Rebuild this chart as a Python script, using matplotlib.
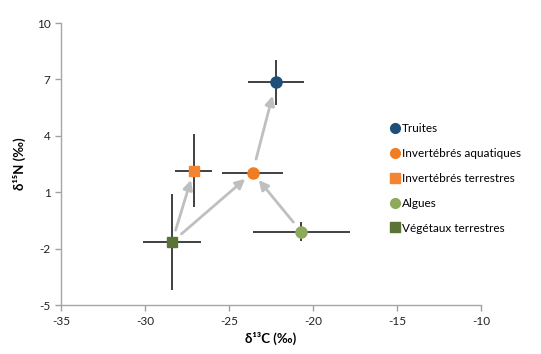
import matplotlib
matplotlib.use("Agg")
import matplotlib.pyplot as plt
from matplotlib.lines import Line2D

plt.rcParams["font.family"] = ["Lato", "DejaVu Sans"]
plt.rcParams["axes.unicode_minus"] = False

# === data ===
groups = ["Truites", "Invertébrés aquatiques", "Invertébrés terrestres",
          "Algues", "Végétaux terrestres"]
d13c = [-22.2, -23.6, -27.1, -20.7, -28.4]
d15n = [6.85, 2.05, 2.15, -1.1, -1.65]
d13c_err = [1.65, 1.8, 1.1, 2.9, 1.7]
d15n_err = [1.2, 0.25, 1.95, 0.5, 2.55]
colors = ["#1F4E79", "#F07D22", "#F4842F", "#8CAA5A", "#5B7436"]
markers = ["o", "o", "s", "o", "s"]
# trophic links (source -> consumer)
links = [(4, 2), (4, 1), (3, 1), (1, 0)]

fig = plt.figure(figsize=(5.41, 3.54), dpi=100)
ax = fig.add_axes([0.113, 0.138, 0.776, 0.797])

for src, dst in links:
    shrink_a = 9 if src != 1 else 10
    shrink_b = 7 if dst != 0 else 10
    ax.annotate("", xy=(d13c[dst], d15n[dst]), xytext=(d13c[src], d15n[src]),
                arrowprops=dict(arrowstyle="-|>", color="#BFBFBF", lw=2,
                                mutation_scale=14, shrinkA=shrink_a, shrinkB=shrink_b),
                zorder=1)

for x, y, xe, ye, c, m in zip(d13c, d15n, d13c_err, d15n_err, colors, markers):
    ax.errorbar(x, y, xerr=xe, yerr=ye, fmt="none", ecolor="#404040",
                elinewidth=1.4, capsize=0, zorder=2)
    ax.plot(x, y, marker=m, color=c, markersize=8 if m == "o" else 7.5,
            linestyle="none", zorder=3)

ax.set_xlim(-35, -10)
ax.set_ylim(-5, 10)
ax.set_xticks(range(-35, -9, 5))
ax.set_yticks([-5, -2, 1, 4, 7, 10])
ax.tick_params(colors="#A0A0A0", labelcolor="#222222", labelsize=8.5,
               length=4, width=1)
for s in ["top", "right"]:
    ax.spines[s].set_visible(False)
for s in ["left", "bottom"]:
    ax.spines[s].set_color("#A6A6A6")
    ax.spines[s].set_linewidth(1)

ax.set_xlabel("δ¹³C (‰)", fontsize=9.5, fontweight="bold", labelpad=4)
ax.set_ylabel("δ¹⁵N (‰)", fontsize=9.5, fontweight="bold", labelpad=8)

handles = [Line2D([], [], marker=m, color=c, linestyle="none",
                  markersize=7 if m == "o" else 6.5)
           for c, m in zip(colors, markers)]
fig.legend(handles, groups, loc="upper left", bbox_to_anchor=(0.71, 0.665),
           frameon=False, fontsize=8.5, handletextpad=0.1, handlelength=1,
           labelspacing=1.17, borderaxespad=0)

plt.savefig("out.png", dpi=100)
print("Saved out.png")
